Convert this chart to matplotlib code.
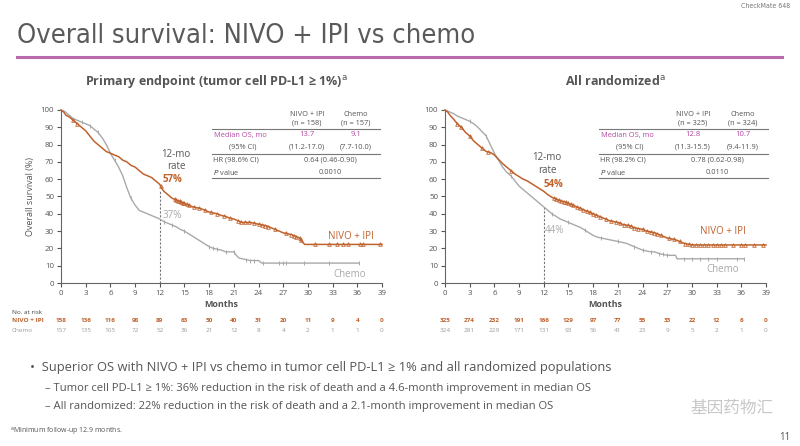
import numpy as np
import matplotlib.pyplot as plt
from matplotlib.lines import Line2D

plt.rcParams['font.family'] = ['Open Sans', 'DejaVu Sans']

ORANGE = '#c0622c'
GRAY = '#a9a9a9'
TXT = '#555555'
MAGENTA = '#b548a4'
W, H = 800, 446

month_ticks = list(range(0, 40, 3))

# ---- left panel: tumor cell PD-L1 >= 1% ----
l_nivo_t = [0, 0.3, 0.6, 1, 1.5, 2, 2.5, 3, 3.5, 4, 4.5, 5, 5.5, 6, 6.5, 7, 7.5, 8, 8.5, 9, 9.5, 10,
            10.5, 11, 11.5, 12, 12.2, 12.5, 13, 13.5, 14, 14.5, 15, 15.5, 16, 16.5, 17, 17.5, 18, 18.5,
            19, 19.5, 20, 20.5, 21, 21.5, 22, 23, 23.5, 24, 24.5, 25, 25.5, 26, 26.5, 27, 27.5, 28,
            28.5, 29, 29.3, 29.6, 39]
l_nivo_s = [100, 99, 97, 96, 94, 92, 90, 88, 85, 82, 80, 78, 76, 75, 74, 73, 71, 70, 68, 67, 65, 63,
            62, 61, 59, 57, 55, 53, 51, 49, 48, 47, 46, 45, 44, 43.5, 43, 42, 41, 40.5,
            40, 39, 38.5, 37.5, 37, 36, 35, 35, 34.5, 34, 33.5, 33, 32, 31, 30, 29, 28.5, 28,
            27, 26, 24, 22.3, 22.3]
l_chemo_t = [0, 0.5, 1, 1.5, 2, 2.5, 3, 3.5, 4, 4.5, 5, 5.5, 6, 6.5, 7, 7.5, 8, 8.5, 9, 9.5, 10, 10.5,
             11, 11.5, 12, 12.5, 13, 13.5, 14, 14.5, 15, 15.5, 16, 16.5, 17, 17.5, 18, 18.5, 19, 19.5,
             20, 21, 21.3, 21.6, 22, 22.5, 23, 24, 24.4, 36.2]
l_chemo_s = [100, 99, 97, 95, 94, 93, 92, 91, 89, 87, 84, 80, 75, 71, 67, 62, 55, 49, 45, 42, 41, 40,
             39, 38, 37, 35.5, 34.5, 33.5, 32.5, 31, 30, 28.5, 27, 25.5, 24, 22.5, 21, 20, 19.5, 19,
             18, 18, 16, 14.5, 14, 13.5, 13, 13, 11.5, 11.5]
l_nivo_cens = [1.5, 2.0, 12.1, 13.8, 14.0, 14.2, 14.4, 14.6, 14.8, 15.0, 15.3, 15.6, 16.2, 16.8, 17.5,
               18.2, 19.0, 19.8, 20.5, 21.5, 21.9, 22.4, 22.9, 23.4, 24.0, 24.4, 24.8, 25.2, 26.0,
               27.3, 28.0, 28.3, 28.6, 29.0, 29.2, 30.8, 32.5, 33.5, 34.3, 34.9, 36.3, 36.7, 38.7]
l_chemo_cens = [2.5, 3.5, 4.5, 6.5, 8.5, 12.5, 13.5, 15.0, 18.0, 18.5, 19.0, 20.0, 21.0, 22.5, 23.0,
                23.5, 24.5, 26.5, 27.0, 27.3, 29.5, 32.5, 36.2]
l_risk_nivo = [158, 136, 116, 98, 89, 63, 50, 40, 31, 20, 11, 9, 4, 0]
l_risk_chemo = [157, 135, 105, 72, 52, 36, 21, 12, 8, 4, 2, 1, 1, 0]

# ---- right panel: all randomized ----
r_nivo_t = [0, 0.3, 0.6, 1, 1.5, 2, 2.5, 3, 3.5, 4, 4.5, 5, 5.5, 6, 6.5, 7, 7.5, 8, 8.5, 9, 9.5, 10,
            10.5, 11, 11.5, 12, 12.5, 13, 13.5, 14, 14.5, 15, 15.5, 16, 16.5, 17, 17.5, 18, 18.5, 19,
            19.5, 20, 20.5, 21, 21.5, 22, 22.5, 23, 23.5, 24, 24.5, 25, 25.5, 26, 26.5, 27, 27.5, 28,
            28.5, 29, 29.5, 30, 39]
r_nivo_s = [100, 99, 97, 95, 92, 90, 87, 85, 82, 80, 78, 76, 75.5, 74, 71.5, 69, 67, 65, 63, 61.5, 60, 59,
            57.5, 56, 54.5, 53, 51, 49.5, 48.5, 47.5, 47, 46, 45, 44, 43, 42, 41, 40, 39, 38,
            37, 36, 35.5, 35, 34, 33.5, 33, 32, 31.5, 31, 30, 29.5, 29, 28, 27, 26, 25.5, 25,
            24, 23, 22.5, 22, 22]
r_chemo_t = [0, 0.5, 1, 1.5, 2, 2.5, 3, 3.5, 4, 4.5, 5, 5.5, 6, 6.5, 7, 7.5, 8, 8.5, 9, 9.5, 10, 10.5,
             11, 11.5, 12, 12.5, 13, 13.5, 14, 14.5, 15, 15.5, 16, 16.5, 17, 17.5, 18, 18.5, 19, 19.5,
             20, 20.5, 21, 21.5, 22, 22.5, 23, 23.5, 24, 24.5, 25, 25.5, 26, 26.5, 27, 28, 28.2, 36.3]
r_chemo_s = [100, 99, 98, 96.5, 95.5, 94.5, 93.5, 92, 90, 87.5, 85, 80, 75, 71, 67, 64, 62, 59, 56, 54, 52, 50,
             48, 46, 44, 42, 40, 38.5, 37, 36, 35, 34, 33, 32, 30.5, 29, 27.5, 26.5, 26, 25.5,
             25, 24.5, 24, 23.5, 23, 22, 21, 20, 19, 18.5, 18, 18, 17, 16.5, 16, 16, 14, 14]
r_nivo_cens = [1.5, 2.0, 3.0, 4.5, 5.2, 8.0, 13.2, 13.5, 13.8, 14.1, 14.4, 14.7, 15.0, 15.3, 15.6, 16.0,
               16.4, 16.8, 17.2, 17.6, 18.0, 18.4, 18.8, 19.5, 20.2, 20.8, 21.3, 21.8, 22.2, 22.6, 23.0,
               23.5, 24.0, 24.5, 25.0, 25.4, 25.8, 26.2, 27.2, 27.8, 28.5, 29.2, 29.6, 30.0, 30.5, 31.0,
               31.5, 32.0, 32.5, 33.0, 33.5, 34.0, 35.0, 36.0, 36.5, 37.5, 38.6]
r_chemo_cens = [3.0, 5.0, 8.0, 13.0, 15.0, 17.0, 19.0, 21.0, 23.0, 24.0, 25.0, 26.0, 26.5, 27.0,
                29.0, 30.0, 31.0, 32.0, 33.0, 35.5, 36.3]
r_risk_nivo = [325, 274, 232, 191, 166, 129, 97, 77, 55, 33, 22, 12, 6, 0]
r_risk_chemo = [324, 281, 229, 171, 131, 93, 56, 41, 23, 9, 5, 2, 1, 0]

fig = plt.figure(figsize=(8, 4.46), dpi=100)
fig.patch.set_facecolor('white')


def ftext(x, y, s, **kw):
    kw.setdefault('color', TXT)
    fig.text(x / W, 1 - y / H, s, **kw)


def fline(x0, x1, y, color='#777777', lw=0.8):
    fig.add_artist(Line2D([x0 / W, x1 / W], [1 - y / H] * 2, transform=fig.transFigure,
                          color=color, lw=lw))


def km_panel(left_px, nt, ns, ct, cs, ncens, ccens):
    ax = fig.add_axes([left_px / W, 1 - 283 / H, 321 / W, 173 / H])
    ax.plot(ct, cs, color=GRAY, lw=1.0, clip_on=False, zorder=2)
    ax.plot(nt, ns, color=ORANGE, lw=1.1, clip_on=False, zorder=3)
    ax.plot(ccens, np.interp(ccens, ct, cs), ls='none', marker='|', ms=3, mew=0.7,
            color=GRAY, clip_on=False, zorder=2)
    ax.plot(ncens, np.interp(ncens, nt, ns), ls='none', marker='^', ms=2.6, mew=0.6,
            mfc='none', mec=ORANGE, clip_on=False, zorder=3)
    ax.set_xlim(0, 39)
    ax.set_ylim(0, 100)
    ax.set_xticks(month_ticks)
    ax.set_yticks(range(0, 101, 10))
    for s in ['top', 'right']:
        ax.spines[s].set_visible(False)
    for s in ['left', 'bottom']:
        ax.spines[s].set_color('#666666')
        ax.spines[s].set_linewidth(0.8)
    ax.tick_params(labelsize=5.7, colors=TXT, length=3, width=0.8, pad=2)
    ax.set_xlabel('Months', fontsize=6.5, color=TXT, fontweight='bold', labelpad=2)
    return ax


axL = km_panel(61, l_nivo_t, l_nivo_s, l_chemo_t, l_chemo_s, l_nivo_cens, l_chemo_cens)
axR = km_panel(445, r_nivo_t, r_nivo_s, r_chemo_t, r_chemo_s, r_nivo_cens, r_chemo_cens)
axL.set_ylabel('Overall survival (%)', fontsize=6.5, color=TXT, labelpad=4)


def risk_rows(left_px, rn, rc):
    for i, m in enumerate(month_ticks):
        x = left_px + m * 321 / 39
        ftext(x, 321, str(rn[i]), fontsize=4.6, color=ORANGE, fontweight='bold',
              ha='center', va='center')
        ftext(x, 331, str(rc[i]), fontsize=4.6, color='#9a9a9a', ha='center', va='center')


risk_rows(61, l_risk_nivo, l_risk_chemo)
risk_rows(445, r_risk_nivo, r_risk_chemo)
ftext(12, 312, 'No. at risk', fontsize=4.6, ha='left', va='center', color='#444444')
ftext(12, 321, 'NIVO + IPI', fontsize=4.6, ha='left', va='center', color=ORANGE, fontweight='bold')
ftext(12, 331, 'Chemo', fontsize=4.6, ha='left', va='center', color='#9a9a9a')

# 12-month annotations
axL.plot([12, 12], [0, 53], ls=(0, (2, 1.5)), color='#777777', lw=0.8, zorder=1)
axR.plot([12, 12], [0, 44], ls=(0, (2, 1.5)), color='#777777', lw=0.8, zorder=1)
axL.text(14.0, 70.8, '12-mo\nrate', fontsize=7, color=TXT, ha='center', va='center', linespacing=1.2)
axL.text(13.5, 60, '57%', fontsize=7, color=ORANGE, ha='center', va='center', fontweight='bold')
axL.text(13.5, 39.3, '37%', fontsize=7, color=GRAY, ha='center', va='center')
axR.text(12.4, 68.8, '12-mo\nrate', fontsize=7, color=TXT, ha='center', va='center', linespacing=1.2)
axR.text(13.2, 57.2, '54%', fontsize=7, color=ORANGE, ha='center', va='center', fontweight='bold')
axR.text(13.3, 30.6, '44%', fontsize=7, color=GRAY, ha='center', va='center')

axL.text(35.2, 27, 'NIVO + IPI', fontsize=7, color=ORANGE, ha='center', va='center')
axL.text(35.1, 5, 'Chemo', fontsize=7, color=GRAY, ha='center', va='center')
axR.text(33.8, 29.5, 'NIVO + IPI', fontsize=7, color=ORANGE, ha='center', va='center')
axR.text(33.7, 8, 'Chemo', fontsize=7, color=GRAY, ha='center', va='center')


# stats tables
def stats_table(x0, x1, c1, c2, cmid, clab, n1, n2, med1, med2, ci1, ci2, hr_lab, hr, p):
    fs = 5.3
    ftext(c1, 114, 'NIVO + IPI', fontsize=fs, ha='center', va='center')
    ftext(c1, 123, '(n = %d)' % n1, fontsize=fs, ha='center', va='center')
    ftext(c2, 114, 'Chemo', fontsize=fs, ha='center', va='center')
    ftext(c2, 123, '(n = %d)' % n2, fontsize=fs, ha='center', va='center')
    fline(x0, x1, 128.5)
    ftext(clab, 135, 'Median OS, mo', fontsize=fs, ha='center', va='center', color=MAGENTA)
    ftext(c1, 135, med1, fontsize=fs + 0.3, ha='center', va='center', color=MAGENTA)
    ftext(c2, 135, med2, fontsize=fs + 0.3, ha='center', va='center', color=MAGENTA)
    ftext(clab + 3, 147, '(95% CI)', fontsize=fs, ha='center', va='center')
    ftext(c1, 147, ci1, fontsize=fs, ha='center', va='center')
    ftext(c2, 147, ci2, fontsize=fs, ha='center', va='center')
    fline(x0, x1, 154)
    ftext(x0 + 1, 160, hr_lab, fontsize=fs, ha='left', va='center')
    ftext(cmid, 160, hr, fontsize=fs, ha='center', va='center')
    ftext(x0 + 1, 172.5, r'$\it{P}$ value', fontsize=fs, ha='left', va='center')
    ftext(cmid, 172.5, p, fontsize=fs, ha='center', va='center')
    fline(x0, x1, 178)


stats_table(212, 380, 307, 356, 330, 240, 158, 157, '13.7', '9.1', '(11.2-17.0)', '(7.7-10.0)',
            'HR (98.6% CI)', '0.64 (0.46-0.90)', '0.0010')
stats_table(599, 768, 693, 743, 717, 627, 325, 324, '12.8', '10.7', '(11.3-15.5)', '(9.4-11.9)',
            'HR (98.2% CI)', '0.78 (0.62-0.98)', '0.0110')

# slide header
ftext(790, 6, 'CheckMate 648', fontsize=5, ha='right', va='center', color='#777777',
      family='DejaVu Sans', fontstretch='condensed')
ftext(17, 36, 'Overall survival: NIVO + IPI vs chemo', fontsize=19.5, ha='left', va='center',
      color='#5a5a5a', family='DejaVu Sans', fontstretch='condensed', fontweight='light')
fline(17, 782, 57, color='#b96aac', lw=2.2)
ftext(216, 81, 'Primary endpoint (tumor cell PD-L1 ≥ 1%)$^{\\rm a}$', fontsize=9, ha='center',
      va='center', fontweight='bold', color='#555555')
ftext(615, 81, 'All randomized$^{\\rm a}$', fontsize=9, ha='center', va='center',
      fontweight='bold', color='#555555')

# bullets
ftext(30, 368, '•  Superior OS with NIVO + IPI vs chemo in tumor cell PD-L1 ≥ 1% and all randomized populations',
      fontsize=9.3, ha='left', va='center', color='#555555')
ftext(45, 388, '– Tumor cell PD-L1 ≥ 1%: 36% reduction in the risk of death and a 4.6-month improvement in median OS',
      fontsize=8.1, ha='left', va='center', color='#555555')
ftext(45, 407, '– All randomized: 22% reduction in the risk of death and a 2.1-month improvement in median OS',
      fontsize=8.1, ha='left', va='center', color='#555555')
ftext(10, 432, '$^{\\rm a}$Minimum follow-up 12.9 months.', fontsize=5, ha='left', va='center',
      color='#555555')
ftext(790, 437, '11', fontsize=7, ha='right', va='center', color='#555555')
ftext(690, 408, '基因药物汇', fontsize=12, ha='left', va='center', color='#c8c8c8',
      family=['Noto Sans CJK SC', 'DejaVu Sans'])

fig.savefig('out.png', dpi=100, facecolor='white')
